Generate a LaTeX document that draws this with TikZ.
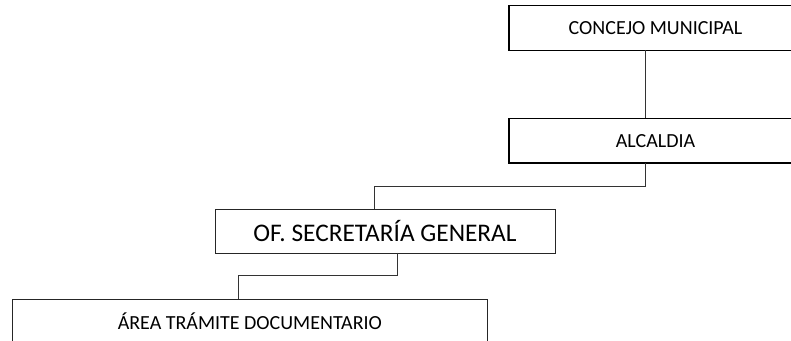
\documentclass[tikz,border=0pt]{standalone}
\usepackage{fontspec}
\setmainfont{Carlito}
\begin{document}
\begin{tikzpicture}[x=0.75pt,y=-0.75pt,
  orgbox/.style={draw=black!85, fill=white, rectangle, anchor=north west,
    inner sep=0pt, outer sep=0pt, line width=0.65pt, align=center,
    font=\fontsize{15}{18}\selectfont},
  headbox/.style={orgbox, draw=black, line width=1.4pt},
  link/.style={draw=black!80, line width=0.7pt}]
  \useasboundingbox (0,0) rectangle (791,341);
  \clip (0,0) rectangle (791,341);

  % boxes of the chart
  \node[headbox, minimum width=219.75pt, minimum height=33.75pt] (concejo) at (509,5.5) {CONCEJO MUNICIPAL};
  \node[headbox, minimum width=219.75pt, minimum height=33.4pt] (alcaldia) at (509,118.5) {ALCALDIA};
  \node[orgbox, minimum width=255pt, minimum height=33pt, font=\fontsize{19}{22}\selectfont] (secretaria) at (215,209) {OF. SECRETARÍA GENERAL};
  \node[orgbox, minimum width=355.7pt, minimum height=33pt] (tramite) at (12.7,299.3) {ÁREA TRÁMITE DOCUMENTARIO};

  % drop points of the connectors
  \coordinate (dropA) at (645,0);
  \coordinate (dropB) at (374,0);
  \coordinate (dropC) at (397,0);
  \coordinate (dropD) at (238.3,0);

  % connectors
  \draw[link] (concejo.south -| dropA) -- (alcaldia.north -| dropA);
  \draw[link] (alcaldia.south -| dropA) -- ++(0,23) -| (secretaria.north -| dropB);
  \draw[link] (secretaria.south -| dropC) -- ++(0,22.7) -| (tramite.north -| dropD);
\end{tikzpicture}
\end{document}
